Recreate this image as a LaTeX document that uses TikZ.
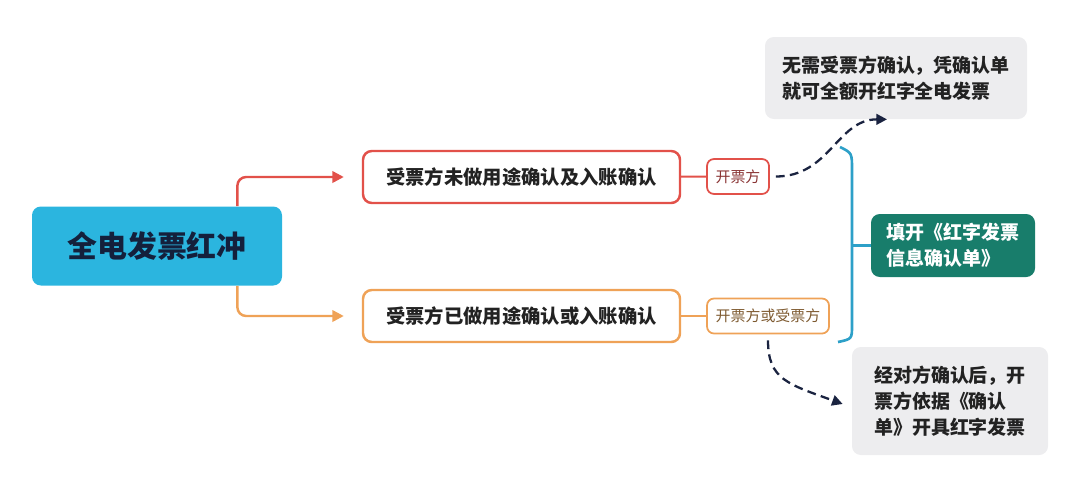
\documentclass[tikz,border=0pt]{standalone}
\usepackage{fontspec}
\setmainfont{Noto Sans CJK SC}
\usepackage{xcolor}
\usepackage{tikz}
\usetikzlibrary{arrows.meta}
\usetikzlibrary{positioning}
\usetikzlibrary{calc}

\definecolor{rootblue}{HTML}{2BB5DF}
\definecolor{rootink}{HTML}{14203C}
\definecolor{redline}{HTML}{E2514A}
\definecolor{redink}{HTML}{8A3434}
\definecolor{orangeline}{HTML}{EFA257}
\definecolor{orangeink}{HTML}{7E5A30}
\definecolor{notegray}{HTML}{EDEDEF}
\definecolor{tealbox}{HTML}{187D6B}
\definecolor{bracketblue}{HTML}{2DA0C8}
\definecolor{navy}{HTML}{1A2340}
\definecolor{ink}{HTML}{222222}

\begin{document}
\begin{tikzpicture}[
    rootbox/.style={fill=rootblue,rounded corners=5pt,minimum width=5cm,minimum height=1.58cm,
      text=rootink,font=\fontsize{17}{20}\selectfont\bfseries},
    branchbox/.style={draw,fill=white,line width=1.4pt,rounded corners=5pt,minimum width=6.34cm,
      minimum height=1.04cm,text=ink,font=\fontsize{11}{14}\selectfont\bfseries},
    tagbox/.style={draw,fill=white,line width=1pt,rounded corners=4pt,minimum height=0.7cm,
      inner xsep=4pt,font=\fontsize{8.5}{10}\selectfont},
    notebox/.style={fill=notegray,rounded corners=5pt,align=left,text=ink,
      font=\fontsize{10.8}{14.7}\selectfont\bfseries},
    fillbox/.style={fill=tealbox,rounded corners=5pt,align=left,text=white,minimum width=3.28cm,
      minimum height=1.26cm,font=\fontsize{10.8}{14.7}\selectfont\bfseries}
  ]
  \useasboundingbox (0,0) rectangle (21.6,9.8);
  \begin{scope}
    \node[rootbox] (root) at (3.14,4.88) {全电发票红冲};
    \node[branchbox,draw=redline] (unconfirmed) at (10.43,6.26) {受票方未做用途确认及入账确认};
    \node[branchbox,draw=orangeline] (confirmed) at (10.43,3.48) {受票方已做用途确认或入账确认};
    \node[tagbox,draw=redline,text=redink,minimum width=1.24cm] (seller) at (14.76,6.27) {开票方};
    \node[tagbox,draw=orangeline,text=orangeink,minimum width=2.44cm] (either) at (15.36,3.48) {开票方或受票方};
    \node[notebox,minimum width=5.24cm,minimum height=1.64cm] (direct) at (17.92,8.24)
      {无需受票方确认，凭确认单\\就可全额开红字全电发票};
    \node[fillbox] (form) at (19.06,4.89) {填开《红字发票\\信息确认单》};
    \node[notebox,minimum width=3.92cm,minimum height=2.16cm] (agreed) at (19.0,1.78)
      {经对方确认后，开\\票方依据《确认\\单》开具红字发票};
  \end{scope}
  \coordinate (rootup) at ([xshift=-0.9cm]root.north east);
  \coordinate (rootdown) at ([xshift=-0.9cm]root.south east);
  \coordinate (brtop) at (16.8,6.86);
  \coordinate (brmid) at (17.04,4.89);
  \coordinate (brbot) at (16.76,2.96);
  \begin{scope}[line width=1.4pt,rounded corners=5pt,-{Triangle[length=6.5pt,width=6.5pt]},shorten >=0.36cm]
    \draw[redline] (rootup) |- (unconfirmed);
    \draw[orangeline] (rootdown) |- (confirmed);
  \end{scope}
  \begin{scope}[every edge/.style={draw,line width=1.2pt}]
    \path (unconfirmed) edge[redline] (seller);
    \path (confirmed) edge[orangeline] (either);
  \end{scope}
  \begin{scope}[navy,line width=1.3pt,dash pattern=on 5pt off 3pt,-{Triangle[length=6pt,width=6pt]},
      shorten <=0.12cm]
    \draw (seller.east) .. controls +(1.2,0) and +(-1.0,0) .. ([xshift=-0.18cm]direct.south);
    \draw (either.south) .. controls +(0,-0.9) and +(-1.1,0.4) .. ([xshift=-0.18cm,yshift=-0.06cm]agreed.west);
  \end{scope}
  \begin{scope}[bracketblue,line width=1.5pt]
    \draw (brtop) .. controls (17.04,6.74) .. (17.04,6.4) -- (17.04,3.3)
      .. controls (17.04,3.02) .. (brbot);
    \draw (brmid) -- (form.west);
  \end{scope}
\end{tikzpicture}
\end{document}
